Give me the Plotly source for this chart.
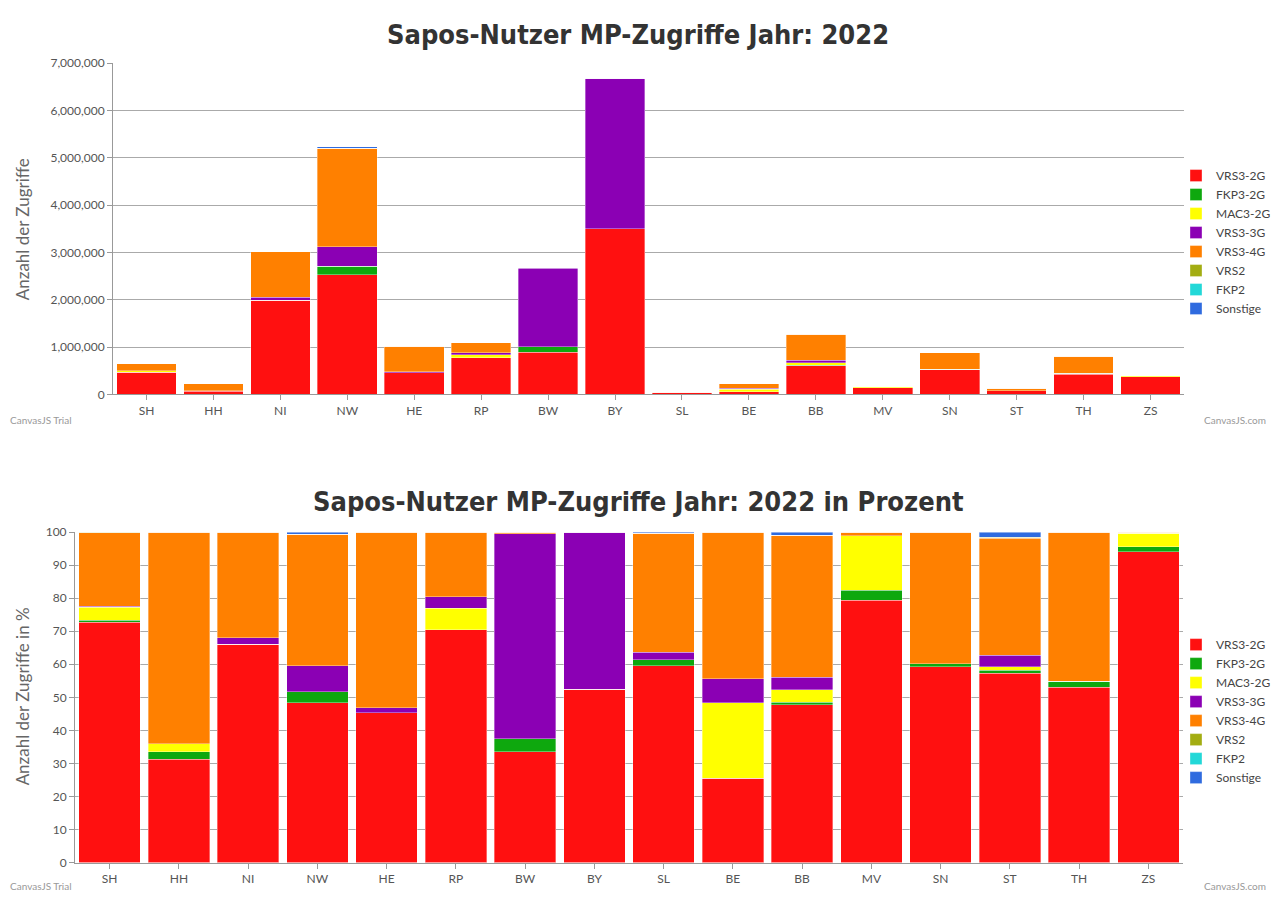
import numpy as np
import plotly.graph_objects as go

categories = ["SH", "HH", "NI", "NW", "HE", "RP", "BW", "BY",
              "SL", "BE", "BB", "MV", "SN", "ST", "TH", "ZS"]

vrs3_2g = [469600, 69000, 1989600, 2528500, 463400, 770600, 896500, 3497200,
           31000, 58100, 610600, 136600, 521000, 75500, 430400, 371700]
fkp3_2g = [3200, 5100, 0, 178000, 0, 0, 107000, 0,
           900, 0, 10200, 5200, 8800, 1300, 14600, 5900]
mac3_2g = [25200, 5300, 0, 0, 0, 71000, 0, 0,
           0, 52000, 48600, 28400, 0, 1300, 0, 15800]
vrs3_3g = [2600, 0, 60200, 413600, 15300, 37200, 1659100, 3176800,
           1200, 16600, 48600, 0, 0, 4600, 0, 0]
vrs3_4g = [143200, 141600, 960200, 2078300, 544200, 214200, 13400, 0,
           18700, 101200, 549100, 1900, 350200, 46700, 367000, 1600]
vrs2 = [1300, 0, 0, 0, 0, 0, 0, 0,
        0, 0, 0, 0, 0, 500, 0, 0]
fkp2 = [0, 0, 0, 0, 0, 0, 0, 0,
        0, 0, 0, 0, 0, 0, 0, 0]
sonstige = [0, 0, 0, 36600, 0, 0, 0, 0,
            200, 0, 12800, 0, 0, 2000, 0, 0]

series_names = ["VRS3-2G", "FKP3-2G", "MAC3-2G", "VRS3-3G", "VRS3-4G", "VRS2", "FKP2", "Sonstige"]
series_values = [vrs3_2g, fkp3_2g, mac3_2g, vrs3_3g, vrs3_4g, vrs2, fkp2, sonstige]
colors = ["#FF1010", "#0EA80E", "#FFFF00", "#8B00B4", "#FF8000", "#A3AD12", "#22D8D8", "#2F6BDF"]

totals = np.sum(np.array(series_values, dtype=float), axis=0)

fig = go.Figure()
for name, vals, col in zip(series_names, series_values, colors):
    fig.add_trace(go.Bar(
        x=categories, y=vals, name=name, marker_color=col,
        marker_line=dict(width=0.5, color="rgba(255,255,255,0.7)"),
        xaxis="x", yaxis="y", legend="legend"))
for name, vals, col in zip(series_names, series_values, colors):
    pct = np.array(vals, dtype=float) / totals * 100
    fig.add_trace(go.Bar(
        x=categories, y=pct, name=name, marker_color=col,
        marker_line=dict(width=0.5, color="rgba(255,255,255,0.7)"),
        xaxis="x2", yaxis="y2", legend="legend2"))

H = 902.0
W = 1280.0
tickfont = dict(family="Lato, Open Sans, sans-serif", size=12, color="#555")
axis_common = dict(showline=True, linecolor="#999", linewidth=1, ticks="outside",
                   tickcolor="#999", ticklen=5, tickfont=tickfont)
legend_font = dict(family="Lato, Open Sans, sans-serif", size=12, color="#444")

fig.update_layout(
    width=1280, height=902,
    margin=dict(l=0, r=0, t=0, b=0),
    paper_bgcolor="white", plot_bgcolor="white",
    barmode="stack", bargap=0.11,
    xaxis=dict(domain=[113 / W, 1184 / W], anchor="y", **axis_common),
    yaxis=dict(domain=[(H - 393) / H, (H - 56) / H], anchor="x", range=[0, 7000000],
               dtick=1000000, tickformat=",", showgrid=True, gridcolor="#aaa",
               gridwidth=1, zeroline=False, **axis_common),
    xaxis2=dict(domain=[75 / W, 1183 / W], anchor="y2", **axis_common),
    yaxis2=dict(domain=[(H - 869) / H, (H - 533) / H], anchor="x2", range=[0, 100],
                dtick=10, showgrid=True, gridcolor="#aaa", gridwidth=1,
                zeroline=False, **axis_common),
    legend=dict(x=1176 / W, y=(H - 238) / H, xanchor="left", yanchor="middle",
                traceorder="normal", font=legend_font,
                bgcolor="rgba(0,0,0,0)", itemwidth=30),
    legend2=dict(x=1176 / W, y=(H - 715) / H, xanchor="left", yanchor="middle",
                 traceorder="normal", font=legend_font,
                 bgcolor="rgba(0,0,0,0)", itemwidth=30),
    showlegend=True,
)

title_font = dict(family="Liberation Sans Narrow, DejaVu Sans Condensed, Arial Narrow, sans-serif",
                  size=27, color="#333")
annotations = [
    dict(text="<b>Sapos-Nutzer MP-Zugriffe Jahr: 2022</b>", x=638 / W, y=(H - 27) / H,
         xref="paper", yref="paper", showarrow=False, font=title_font,
         xanchor="center", yanchor="middle"),
    dict(text="<b>Sapos-Nutzer MP-Zugriffe Jahr: 2022 in Prozent</b>", x=638 / W, y=(H - 502) / H,
         xref="paper", yref="paper", showarrow=False, font=title_font,
         xanchor="center", yanchor="middle"),
    dict(text="Anzahl der Zugriffe", x=22 / W, y=(H - 225) / H, xref="paper", yref="paper",
         showarrow=False, textangle=-90, font=dict(family="Lato, Open Sans, sans-serif", size=17, color="#666"),
         xanchor="center", yanchor="middle"),
    dict(text="Anzahl der Zugriffe in %", x=22 / W, y=(H - 700) / H, xref="paper", yref="paper",
         showarrow=False, textangle=-90, font=dict(family="Lato, Open Sans, sans-serif", size=17, color="#666"),
         xanchor="center", yanchor="middle"),
]
wm_font = dict(family="Lato, Open Sans, sans-serif", size=10, color="#999")
for yy in (419, 893):
    annotations.append(dict(text="CanvasJS Trial", x=8 / W, y=(H - yy) / H, xref="paper", yref="paper",
                            showarrow=False, font=wm_font, xanchor="left", yanchor="middle"))
    annotations.append(dict(text="CanvasJS.com", x=1268 / W, y=(H - yy) / H, xref="paper", yref="paper",
                            showarrow=False, font=wm_font, xanchor="right", yanchor="middle"))
fig.update_layout(annotations=annotations)

fig.write_html("out.html")
